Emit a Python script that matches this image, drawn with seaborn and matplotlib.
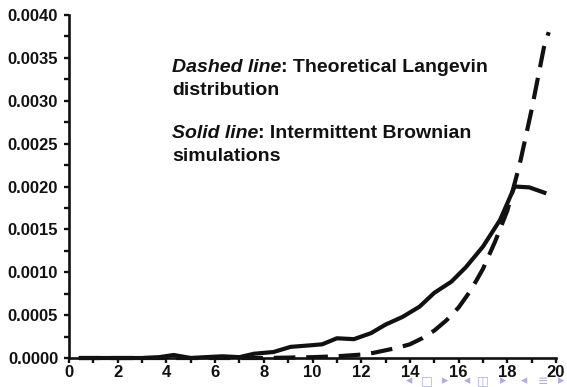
import numpy as np
import pandas as pd
import matplotlib
matplotlib.use("Agg")
import matplotlib.pyplot as plt
import seaborn as sns

# Intermittent Brownian simulations (solid)
sim_x = [0.4, 1.0, 2.0, 3.0, 3.7, 4.3, 5.0, 5.6, 6.3, 7.0, 7.6, 8.4, 9.1, 10.0, 10.4, 11.0,
         11.7, 12.4, 13.0, 13.7, 14.4, 15.0, 15.7, 16.3, 17.0, 17.7, 18.3, 18.9, 19.6]
sim_y = [0.0, 0.0, 0.0, 0.0, 0.00001, 0.000035, 0.0, 0.00001, 0.00002, 0.00001, 0.00005,
         0.00007, 0.00013, 0.00015, 0.00016, 0.00023, 0.00022, 0.00029, 0.00039, 0.00048,
         0.0006, 0.00076, 0.00089, 0.00106, 0.0013, 0.00161, 0.0020, 0.00199, 0.00192]

# Theoretical Langevin distribution (dashed)
th_x = [0.4, 2.0, 4.0, 6.0, 8.0, 10.0, 11.0, 11.5, 12.0, 12.5, 13.0, 13.5, 14.0, 14.5, 15.0,
        15.5, 16.0, 16.5, 17.0, 17.5, 18.0, 18.5, 19.0, 19.5, 19.7]
th_y = [0.0, 0.0, 0.0, 0.0, 0.0, 0.00001, 0.00002, 0.00003, 0.00004, 0.00006, 0.00009,
        0.00012, 0.00016, 0.00023, 0.00032, 0.00044, 0.00059, 0.00079, 0.00104, 0.00136,
        0.00172, 0.00225, 0.0029, 0.00362, 0.0038]

x_ticks = [0, 2, 4, 6, 8, 10, 12, 14, 16, 18, 20]
y_ticks = [0.0, 0.0005, 0.0010, 0.0015, 0.0020, 0.0025, 0.0030, 0.0035, 0.0040]

nav_icons = ["◂", "□", "▸", "◂", "◫", "▸", "◂", "≡", "▸"]

sns.set_theme(style="ticks")
plt.rcParams['font.family'] = ['Liberation Sans', 'DejaVu Sans']

fig = plt.figure(figsize=(5.67, 3.87), dpi=100)
ax = fig.add_axes([0.1217, 0.0749, 0.859, 0.8863])

df_sim = pd.DataFrame({"x": sim_x, "y": sim_y})
df_th = pd.DataFrame({"x": th_x, "y": th_y})
sns.lineplot(data=df_sim, x="x", y="y", ax=ax, color="#111111", linewidth=3.0, sort=False)
sns.lineplot(data=df_th, x="x", y="y", ax=ax, color="#111111", linewidth=3.0, sort=False)
ax.lines[-1].set_dashes([5.2, 2.6])
for ln in ax.lines:
    ln.set_clip_on(False)
    ln.set_solid_capstyle("butt")

ax.set_xlim(0, 20)
ax.set_ylim(0, 0.0040)
ax.set_xticks(x_ticks)
ax.set_xticklabels([str(t) for t in x_ticks])
ax.set_yticks(y_ticks)
ax.set_yticklabels([f"{t:.4f}" for t in y_ticks])
ax.set_xticks(np.arange(1, 20, 2), minor=True)
ax.set_yticks(np.arange(0.00025, 0.0040, 0.0005), minor=True)
ax.set_xlabel("")
ax.set_ylabel("")
for s in ["top", "right"]:
    ax.spines[s].set_visible(False)
for s in ["left", "bottom"]:
    ax.spines[s].set_linewidth(1.9)
    ax.spines[s].set_color("#111111")
ax.tick_params(which="major", length=3.8, width=1.7, color="#111111", labelsize=12)
ax.tick_params(which="minor", length=3.3, width=1.7, color="#111111")
ax.tick_params(axis="y", which="major", pad=4.0)
ax.tick_params(axis="x", which="major", pad=1.5)
for lab in ax.get_xticklabels() + ax.get_yticklabels():
    lab.set_fontweight("bold")
    lab.set_color("#111111")

fs = 14
tx = 0.3034
t1 = fig.text(tx, 1 - 72 / 387, "Dashed line", fontsize=fs, fontweight="bold",
              fontstyle="italic", color="#111111", va="baseline")
ax.annotate(": Theoretical Langevin", xy=(1, 0), xycoords=t1, va="bottom", ha="left",
            fontsize=fs, fontweight="bold", color="#111111")
fig.text(tx, 1 - 95 / 387, "distribution", fontsize=fs, fontweight="bold",
         color="#111111", va="baseline")
t2 = fig.text(tx, 1 - 138 / 387, "Solid line", fontsize=fs, fontweight="bold",
              fontstyle="italic", color="#111111", va="baseline")
ax.annotate(": Intermittent Brownian", xy=(1, 0), xycoords=t2, va="bottom", ha="left",
            fontsize=fs, fontweight="bold", color="#111111")
fig.text(tx, 1 - 161 / 387, "simulations", fontsize=fs, fontweight="bold",
         color="#111111", va="baseline")

nav_x = [409, 427, 445, 467, 483, 503, 524, 543, 561]
for nx, ic in zip(nav_x, nav_icons):
    fig.text(nx / 567, 1 - 381 / 387, ic, fontsize=9, color="#aeaee0", ha="center",
             va="center", family=["DejaVu Sans"])

fig.savefig("out.png", dpi=100)
